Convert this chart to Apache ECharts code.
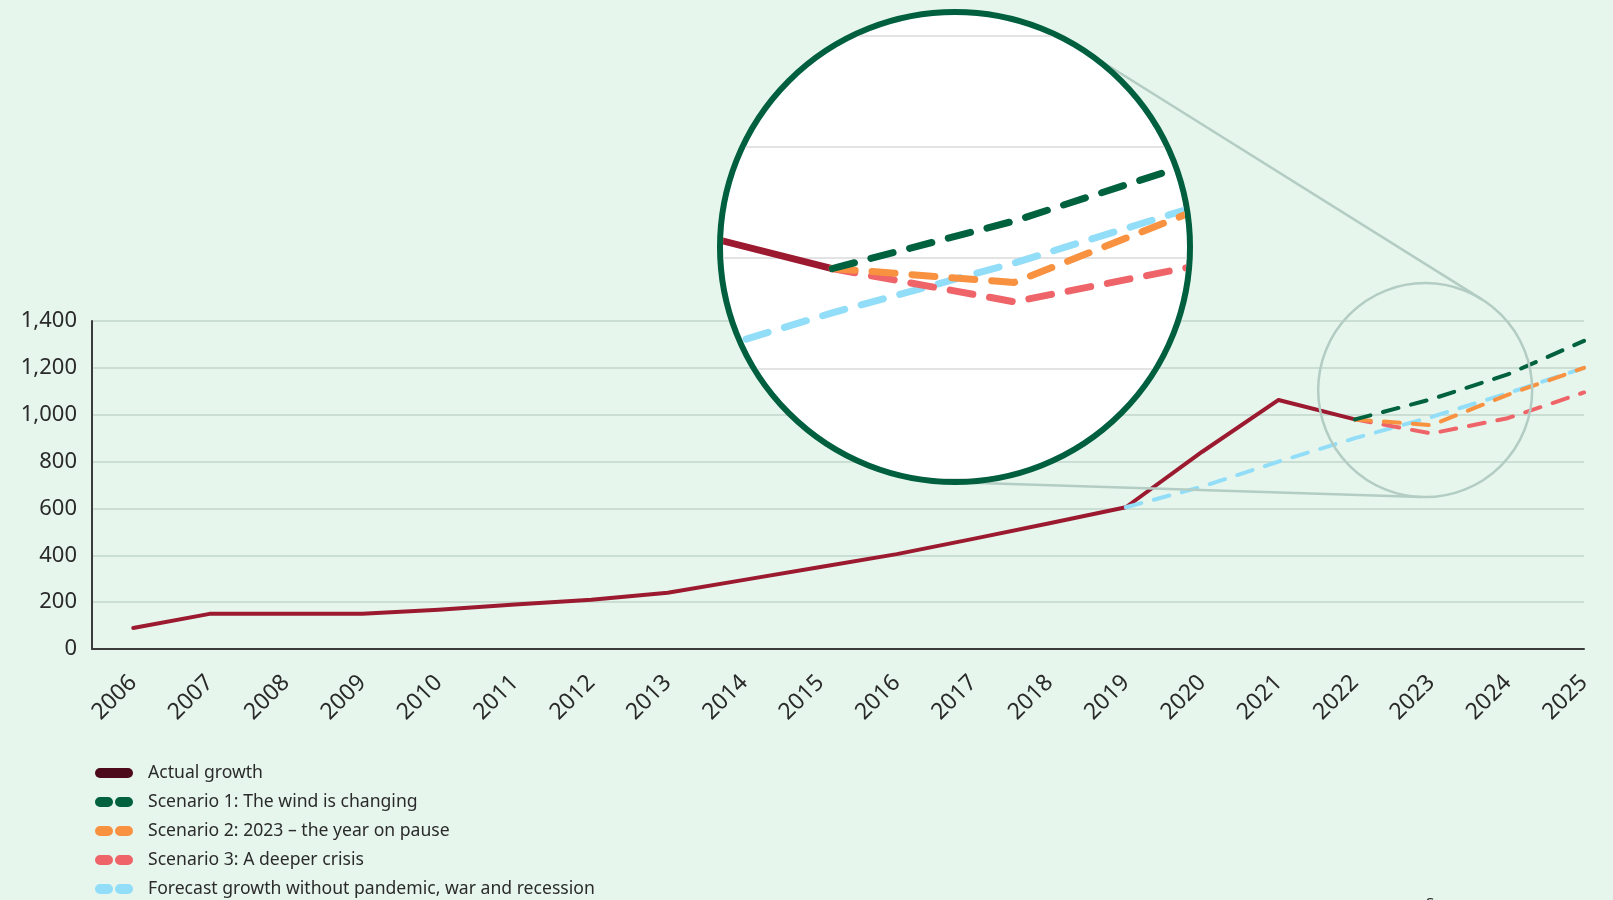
<!DOCTYPE html>
<html>
<head>
<meta charset="utf-8">
<script src="https://cdn.jsdelivr.net/npm/echarts@6/dist/echarts.min.js"></script>
<style>
  html, body { margin: 0; padding: 0; background: #e6f6ed; }
  #main { width: 1613px; height: 900px; }
  /* the magnifier: a second chart clipped to a circle */
  #lens {
    position: absolute; left: 717px; top: 9px; width: 476px; height: 476px;
    box-sizing: border-box; border: 6px solid #005f3f; border-radius: 50%;
    overflow: hidden; background: #fff;
  }
  #zoom { width: 464px; height: 464px; }
</style>
</head>
<body>
<div id="main"></div>
<div id="lens"><div id="zoom"></div></div>
<script>
// years on the x axis
const years = [2006, 2007, 2008, 2009, 2010, 2011, 2012, 2013, 2014, 2015,
               2016, 2017, 2018, 2019, 2020, 2021, 2022, 2023, 2024, 2025];

const actual   = [90, 150, 150, 150, 168, 190, 210, 240, 295, 350,
                  405, 470, 537, 605, 842, 1063, 980, null, null, null];
const scen1    = [null, null, null, null, null, null, null, null, null, null,
                  null, null, null, null, null, null, 980, 1066, 1172, 1315];
const scen2    = [null, null, null, null, null, null, null, null, null, null,
                  null, null, null, null, null, null, 980, 955, 1085, 1200];
const scen3    = [null, null, null, null, null, null, null, null, null, null,
                  null, null, null, null, null, null, 980, 920, 985, 1095];
const noCrisis = [null, null, null, null, null, null, null, null, null, null,
                  null, null, null, 605, 693, 800, 900, 990, 1092, 1200];

const names = [
  'Actual growth',
  'Scenario 1: The wind is changing',
  'Scenario 2: 2023 \u2013 the year on pause',
  'Scenario 3: A deeper crisis',
  'Forecast growth without pandemic, war and recession'
];
const colors = ['#9c1a30', '#00613f', '#f99240', '#ee6468', '#92ddf8'];

// point the small circle sits on, and the lens
const focus = [2022.92, 1105];
const focusR = 107;
const lens = { cx: 955, cy: 247, r: 235 };

const FONT = 'Noto Sans';

function pairs(arr) {
  return years.map((y, i) => [y, arr[i]]);
}

// draw order: forecast under the scenarios, actual under everything
function makeSeries(width, dash) {
  const list = [
    [0, actual], [4, noCrisis], [3, scen3], [2, scen2], [1, scen1]
  ];
  return list.map(([k, arr]) => ({
    name: names[k],
    type: 'line',
    data: pairs(arr),
    symbol: 'none',
    color: colors[k],
    lineStyle: {
      color: colors[k], width: width, cap: 'round', join: 'round',
      type: k === 0 ? 'solid' : dash
    },
    emphasis: { disabled: true },
    silent: true
  }));
}

const barIcon = 'path://M5,0H33A5,5,0,0,1,33,10H5A5,5,0,0,1,5,0Z';
const dashIcon = 'path://M5,0H13A5,5,0,0,1,13,10H5A5,5,0,0,1,5,0ZM25,0H33A5,5,0,0,1,33,10H25A5,5,0,0,1,25,0Z';

const chart = echarts.init(document.getElementById('main'));
chart.setOption({
  animation: false,
  backgroundColor: '#e6f6ed',
  grid: { left: 92, right: 29, top: 321, bottom: 251 },
  xAxis: {
    type: 'value',
    min: 2005.46,
    max: 2025,
    axisLine: { show: true, onZero: false, lineStyle: { color: '#3b3b3b', width: 2 } },
    axisTick: { show: false },
    splitLine: { show: false },
    axisLabel: {
      customValues: years,
      rotate: 45,
      margin: 30,
      fontSize: 23,
      fontFamily: FONT,
      color: '#2a2a2a',
      formatter: v => String(v)
    }
  },
  yAxis: {
    type: 'value',
    min: 0,
    max: 1400,
    interval: 200,
    axisLine: { show: true, lineStyle: { color: '#3b3b3b', width: 2 } },
    axisTick: { show: false },
    splitLine: { lineStyle: { color: '#c2d6cb', width: 1.5 } },
    axisLabel: { fontSize: 22, fontFamily: FONT, color: '#2a2a2a', margin: 15 }
  },
  legend: {
    orient: 'vertical',
    left: 90,
    top: 758,
    height: 200,
    itemWidth: 38,
    itemHeight: 11,
    itemGap: 9,
    selectedMode: false,
    itemStyle: { borderWidth: 0 },
    textStyle: { fontSize: 17.6, lineHeight: 20, fontFamily: FONT, color: '#2b2b2b', padding: [0, 0, 0, 10] },
    data: names.map((n, k) => ({
      name: n,
      icon: k === 0 ? barIcon : dashIcon,
      itemStyle: { color: k === 0 ? '#4c0a1b' : colors[k] }
    }))
  },
  series: makeSeries(4, [16, 13])
});

// small circle around the focus point + tangent lines to the lens
const p = chart.convertToPixel({ gridIndex: 0 }, focus);
function tangents(c1, r1, c2, r2) {
  const dx = c2[0] - c1[0], dy = c2[1] - c1[1];
  const D = Math.sqrt(dx * dx + dy * dy);
  const th = Math.atan2(dy, dx);
  const a = Math.acos((r1 - r2) / D);
  return [th - a, th + a].map(ang => {
    const nx = Math.cos(ang), ny = Math.sin(ang);
    return { x1: c1[0] + r1 * nx, y1: c1[1] + r1 * ny, x2: c2[0] + r2 * nx, y2: c2[1] + r2 * ny };
  });
}
const tl = tangents([lens.cx, lens.cy], lens.r, p, focusR);
const ringColor = '#b3cdc4';
chart.setOption({
  graphic: [
    { type: 'line', shape: tl[0], style: { stroke: ringColor, lineWidth: 2.5 }, z: 20, silent: true },
    { type: 'line', shape: tl[1], style: { stroke: ringColor, lineWidth: 2.5 }, z: 20, silent: true },
    { type: 'circle', shape: { cx: p[0], cy: p[1], r: focusR },
      style: { fill: 'none', stroke: ringColor, lineWidth: 2.5 }, z: 20, silent: true },
    { type: 'text', left: 1426, top: 896,
      style: { text: 'Source:', fontSize: 15, fontFamily: FONT, fill: '#2b2b2b' }, silent: true }
  ]
});

// magnified view
const zoom = echarts.init(document.getElementById('zoom'));
zoom.setOption({
  animation: false,
  grid: { left: 0, right: 0, top: 21, height: 446 },
  xAxis: {
    type: 'value', min: 2021.4, max: 2023.95,
    axisLine: { show: false }, axisTick: { show: false },
    axisLabel: { show: false }, splitLine: { show: false }
  },
  yAxis: {
    type: 'value', min: 600, max: 1400, interval: 200,
    axisLine: { show: false }, axisTick: { show: false },
    axisLabel: { show: false },
    splitLine: { lineStyle: { color: '#dadada', width: 1.5 } }
  },
  series: makeSeries(7, [23, 17])
});
</script>
</body>
</html>
